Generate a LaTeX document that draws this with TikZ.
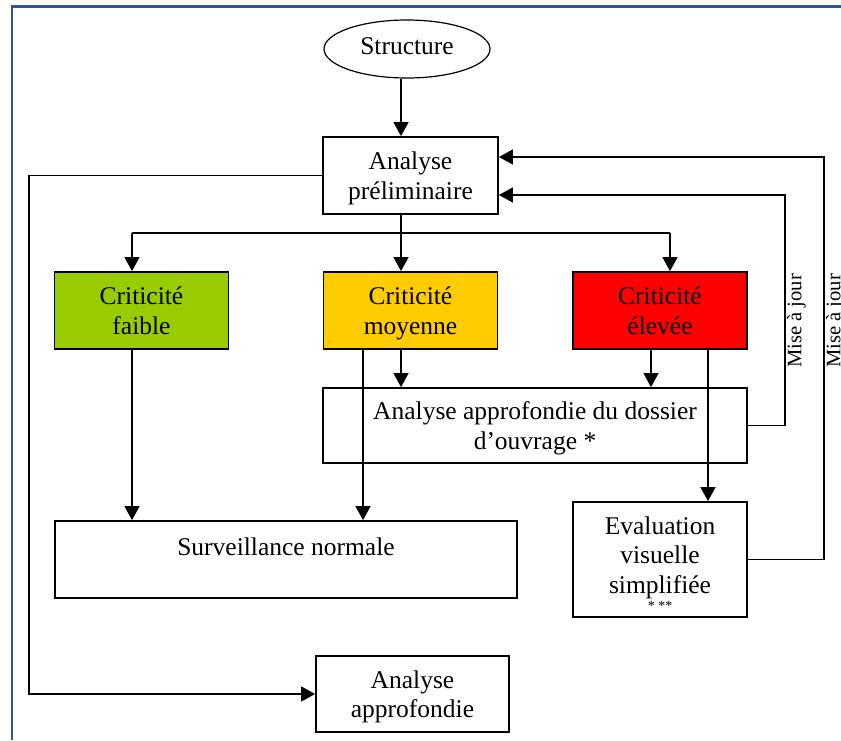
\documentclass[tikz,border=0pt]{standalone}
\usepackage{fontspec}
\setmainfont{Liberation Serif}
\usetikzlibrary{arrows.meta,shapes.geometric}
\definecolor{critLow}{RGB}{153,204,0}
\definecolor{critMid}{RGB}{255,204,0}
\definecolor{critHigh}{RGB}{255,0,0}
\definecolor{frameBlue}{RGB}{47,85,151}
\tikzset{
  box/.style={draw,line width=0.9pt,align=center,inner sep=0pt,text depth=0pt,font=\fontsize{12.75pt}{14.8pt}\selectfont},
  crit/.style={box,minimum width=87pt,minimum height=38.5pt},
  arr/.style={-{Triangle[length=7pt,width=7.5pt]},line width=0.75pt},
  upd/.style={rotate=90,anchor=north,inner sep=0.8pt,font=\fontsize{10.3pt}{12pt}\selectfont},
}

\begin{document}
\begin{tikzpicture}[x=0.5pt,y=-0.5pt]
  \useasboundingbox (0,0) rectangle (841,740);
  % frame (left + top only)
  \draw[frameBlue,line width=1.1pt] (12,740) -- (12,6.5) -- (841,6.5);
  % top
  \node[box,ellipse,line width=0.6pt,text depth=3pt,minimum width=83pt,minimum height=29pt] (struct) at (407,49) {Structure};
  \node[crit,minimum width=87.5pt] (prelim) at (410.5,175.5) {Analyse\\préliminaire};
  % criticity levels
  \node[crit,fill=critLow] (faible) at (141.5,310.5) {Criticité\\faible};
  \node[crit,fill=critMid] (moyenne) at (410.5,310.5) {Criticité\\moyenne};
  \node[crit,fill=critHigh] (elevee) at (660,310.5) {Criticité\\élevée};
  % follow-up
  \node[box,minimum width=212pt,minimum height=37.5pt] (dossier) at (535,425.5) {Analyse approfondie du dossier\\d’ouvrage *};
  \node[box,minimum width=231pt,minimum height=38.5pt] (surv) at (286,559.5) {Surveillance normale\\[-2pt]\strut};
  \node[box,minimum width=87pt,minimum height=57.5pt] (evalv) at (660,559.5) {\rule{0pt}{13pt}Evaluation\\visuelle\\simplifiée\\[-6pt]{\fontsize{7pt}{8pt}\selectfont * **}};
  \node[box,minimum width=96.5pt,minimum height=38pt] (approf) at (412.5,694) {Analyse\\approfondie};
  % split below prelim
  \coordinate (c1) at (132,233);
  \coordinate (c2) at (401,233);
  \coordinate (c3) at (670,233);
  \draw[arr] (struct.south -| c2) -- (prelim.north -| c2);
  \draw[line width=0.75pt] (prelim.south -| c2) -- (c2);
  \draw[line width=0.75pt] (c1) -- (c3);
  \foreach \c/\n in {c1/faible,c2/moyenne,c3/elevee}
    \draw[arr] (\c) -- (\n.north -| \c);
  % down arrows
  \draw[arr] (moyenne.south -| c2) -- (dossier.north -| c2);
  \draw[arr] ([xshift=-4.5pt]elevee.south) -- ([xshift=-4.5pt]elevee.south |- dossier.north);
  \draw[arr] (faible.south -| c1) -- (surv.north -| c1);
  \draw[arr] ([xshift=-23.75pt]moyenne.south) -- ([xshift=-23.75pt]moyenne.south |- surv.north);
  \draw[arr] ([xshift=24pt]elevee.south) -- ([xshift=24pt]elevee.south |- evalv.north);
  % left bypass
  \coordinate (lft) at (29,694);
  \draw[arr] (prelim.west) -| (lft) -- (approf.west);
  % updates back to prelim
  \coordinate (m1) at (785,195);
  \coordinate (m2) at (824,157);
  \draw[arr] (dossier.east) -| (m1) -- (prelim.east |- m1);
  \draw[arr] (evalv.east) -| (m2) -- (prelim.east |- m2);
  \node[upd] (upd1) at (785,321) {Mise à jour};
  \node[upd] (upd2) at (824,321) {Mise à jour};
\end{tikzpicture}
\end{document}
